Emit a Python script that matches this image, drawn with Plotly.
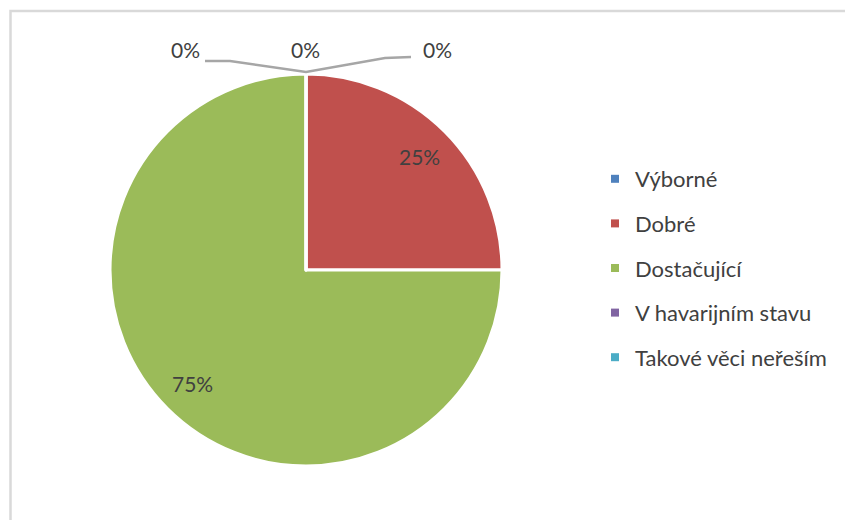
import math
import plotly.graph_objects as go

categories = ["Výborné", "Dobré", "Dostačující", "V havarijním stavu", "Takové věci neřeším"]
values = [0, 25, 75, 0, 0]
colors = ["#4F81BD", "#C0504D", "#9BBB59", "#8064A2", "#4BACC6"]

W, H = 845, 520
cx, cy, R = 306, 270, 196  # pie center / radius in px
FONT = "Lato, 'Open Sans', sans-serif"
TXT = "#404040"

def px(x):
    return x / W

def py(y):
    return 1 - y / H

fig = go.Figure()
fig.add_trace(go.Pie(
    labels=categories, values=values, sort=False, direction="clockwise", rotation=0,
    marker=dict(colors=colors, line=dict(color="white", width=3)),
    textinfo="none", hoverinfo="label+percent", showlegend=False,
    domain=dict(x=[px(cx - R), px(cx + R)], y=[py(cy + R), py(cy - R)]),
))

# legend via dummy traces (for item spacing)
for lab, col in zip(categories, colors):
    fig.add_trace(go.Scatter(x=[None], y=[None], mode="markers", name=lab, legendgroup=lab,
                             marker=dict(symbol="square", size=8, color=col)))

annotations = []
total = sum(values)
cum = 0
zero_pos = [(305, 50), (437, 49), (185, 50)]
zi = 0
for lab, v in zip(categories, values):
    pct = f"{round(100 * v / total)}%"
    if v > 0:
        mid = (cum + v / 2) / total * 2 * math.pi
        r = 0.82 * R
        x, y = cx + r * math.sin(mid), cy - r * math.cos(mid)
    else:
        x, y = zero_pos[zi]
        zi += 1
    annotations.append(dict(x=px(x), y=py(y), xref="paper", yref="paper", text=pct,
                            xanchor="center", yanchor="middle",
                            showarrow=False, font=dict(size=21, color=TXT, family=FONT)))
    cum += v

shapes = [
    dict(type="rect", xref="paper", yref="paper", x0=px(10.5), x1=px(860), y0=py(540), y1=py(11),
         line=dict(color="#D9D9D9", width=2.5)),
    dict(type="path", xref="paper", yref="paper",
         path=f"M {px(205)},{py(61)} L {px(230)},{py(61)} L {px(306)},{py(72)} L {px(385)},{py(58)} L {px(411)},{py(57)}",
         line=dict(color="#A6A6A6", width=2.5)),
]

fig.update_layout(
    width=W, height=H, margin=dict(l=0, r=0, t=0, b=0),
    paper_bgcolor="white", plot_bgcolor="white",
    xaxis=dict(visible=False), yaxis=dict(visible=False),
    annotations=annotations, shapes=shapes,
    legend=dict(x=px(595), y=py(158), xanchor="left", yanchor="top",
                font=dict(size=22, color=TXT, family=FONT), tracegroupgap=13,
                itemwidth=30, bgcolor="rgba(0,0,0,0)"),
)
fig.write_html("out.html", post_script="document.body.style.margin='0';",
               config={"displayModeBar": False})
